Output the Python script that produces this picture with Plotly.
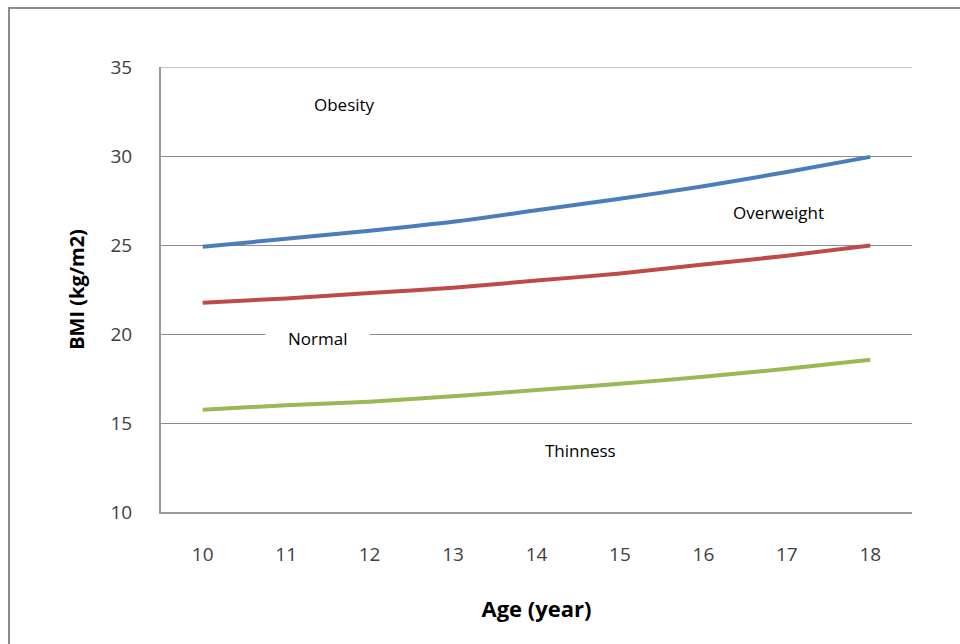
import plotly.graph_objects as go

# Age in years and BMI cut-off curves (kg/m2)
ages = [10, 11, 12, 13, 14, 15, 16, 17, 18]
obesity_cut = [24.9, 25.35, 25.8, 26.3, 26.95, 27.6, 28.3, 29.1, 29.95]
overweight_cut = [21.75, 22.0, 22.3, 22.6, 23.0, 23.4, 23.9, 24.4, 24.97]
thinness_cut = [15.75, 16.0, 16.2, 16.5, 16.85, 17.2, 17.6, 18.05, 18.55]

y_ticks = [10, 15, 20, 25, 30, 35]

# Category labels placed between the curves
zone_names = ["Obesity", "Overweight", "Normal", "Thinness"]
zone_x = [11.7, 16.9, 11.38, 14.53]
zone_y = [32.9, 26.85, 19.75, 13.45]

FONT = "Open Sans, Liberation Sans, sans-serif"

fig = go.Figure()
for vals, color in [(obesity_cut, "#4A7EBB"),
                    (overweight_cut, "#BE4B48"),
                    (thinness_cut, "#98B954")]:
    fig.add_trace(go.Scatter(
        x=ages, y=vals, mode="lines",
        line=dict(color=color, width=4, shape="spline", smoothing=0.8),
        showlegend=False, hoverinfo="skip"))

for name, zx, zy in zip(zone_names, zone_x, zone_y):
    fig.add_annotation(
        x=zx, y=zy, text=name, showarrow=False,
        font=dict(family=FONT, size=17, color="#000000"),
        bgcolor="white" if name == "Normal" else None,
        borderpad=22 if name == "Normal" else 0)

# Top gridline at the upper edge of the value range
fig.add_shape(type="line", xref="paper", yref="y", x0=0, x1=1, y0=35, y1=35,
              line=dict(color="#8C8C8C", width=1), layer="below")

# Chart frame running off the right and bottom edges
px_w, px_h = 751, 445
fig.add_shape(type="rect", xref="paper", yref="paper",
              x0=(9 - 161) / px_w, x1=(980 - 161) / px_w,
              y0=(512 - 660) / px_h, y1=(512 - 8) / px_h,
              line=dict(color="#8C8C8C", width=2), fillcolor="rgba(0,0,0,0)",
              layer="below")

fig.update_layout(
    width=960, height=644,
    margin=dict(l=161, r=48, t=67, b=132),
    paper_bgcolor="white", plot_bgcolor="white",
    font=dict(family=FONT, color="#404040"),
    xaxis=dict(
        range=[9.5, 18.5], tickvals=ages, ticktext=[str(a) for a in ages],
        showgrid=False, zeroline=False,
        showline=True, linecolor="#9A9A9A", linewidth=2,
        ticks="", ticklabelstandoff=24,
        tickfont=dict(family=FONT, size=19, color="#404040"),
        title=dict(text="<b>Age (year)</b>", standoff=36,
                   font=dict(family=FONT, size=22, color="#000000")),
        fixedrange=True),
    yaxis=dict(
        range=[10, 35], tickvals=y_ticks, ticktext=[str(v) for v in y_ticks],
        showgrid=True, gridcolor="#8C8C8C", gridwidth=1, zeroline=False,
        showline=True, linecolor="#9A9A9A", linewidth=2,
        ticks="", ticklabelstandoff=23,
        tickfont=dict(family=FONT, size=19, color="#404040"),
        title=dict(text="<b>BMI (kg/m2)</b>", standoff=20,
                   font=dict(family=FONT, size=20, color="#000000")),
        fixedrange=True),
)

fig.write_html("out.html")
